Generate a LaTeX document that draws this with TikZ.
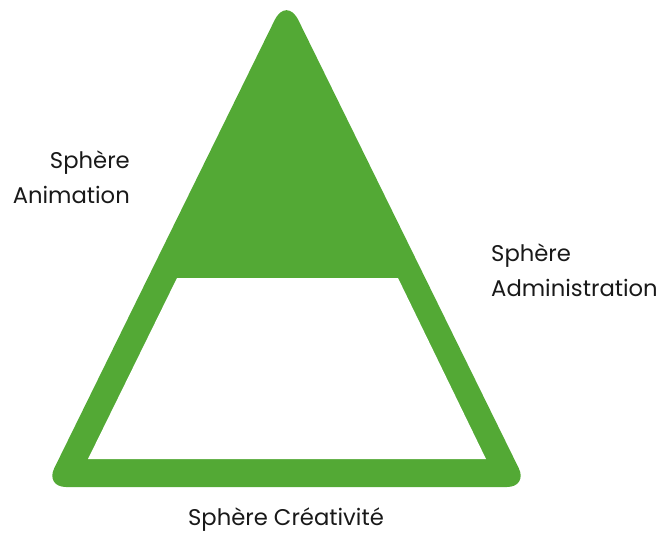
\documentclass[tikz,border=0pt]{standalone}
\usepackage{fontspec}
\setmainfont{Poppins}
\definecolor{sgreen}{RGB}{83,169,53}
\begin{document}
\begin{tikzpicture}[x=1pt,y=-1pt,
  lbl/.style={font=\fontsize{22.7}{35}\selectfont, inner sep=0pt, text=black!90}]
\useasboundingbox (0,0) rectangle (662,533);
\fill[sgreen] (286.5,487) [rounded corners=21pt] -- (45,487) [rounded corners=27pt] -- (286.5,-4) [rounded corners=21pt] -- (528,487) -- cycle;
\fill[white] (177,278) -- (398,278) -- (486,459) -- (88,459) -- cycle;
\node[lbl, anchor=base east, align=right] (anim) at (130,203) {Sphère\\Animation};
\node[lbl, anchor=base west, align=left] (admin) at (491,296) {Sphère\\Administration};
\node[lbl, anchor=base] (crea) at (286,525) {Sphère Créativité};
\end{tikzpicture}
\end{document}
